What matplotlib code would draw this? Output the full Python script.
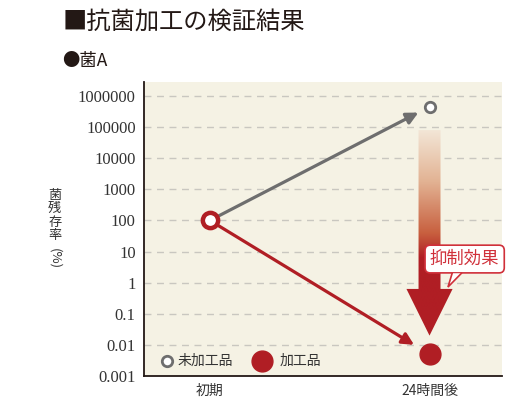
#!/usr/bin/env python3
import matplotlib
matplotlib.use("Agg")
import matplotlib.pyplot as plt
import numpy as np
from matplotlib.patches import Polygon
from matplotlib.colors import LinearSegmentedColormap

# 菌残存率(%) — 初期 / 24時間後
times = ["初期", "24時間後"]
untreated = [100, 450000]
treated = [100, 0.005]
yticks = [0.001, 0.01, 0.1, 1, 10, 100, 1000, 10000, 100000, 1000000]
ytick_labels = ["0.001", "0.01", "0.1", "1", "10", "100", "1000", "10000", "100000", "1000000"]

RED = "#B01E24"
CALLOUT = "#D0303A"
GREY = "#6E6E6E"
BG = "#F5F2E4"
INK = "#333333"
JP = ["Noto Sans CJK JP", "DejaVu Sans"]
NUM = ["Liberation Serif", "DejaVu Serif"]

plt.rcParams["font.family"] = JP

fig = plt.figure(figsize=(5.32, 3.99), dpi=100)
ax = fig.add_axes([0.2707, 0.0576, 0.6729, 0.7369])
ax.set_facecolor(BG)
ax.set_yscale("log")
ax.set_xlim(-0.3, 1.33)
ax.set_ylim(1e-3, 10 ** 6.45)

x = np.arange(len(times))

# 目盛りと破線グリッド
ax.set_yticks(yticks)
ax.set_yticklabels(ytick_labels, fontfamily=NUM, fontsize=12, color=INK)
ax.yaxis.set_minor_locator(matplotlib.ticker.NullLocator())
ax.set_xticks(x)
ax.set_xticklabels(times, fontsize=10, color=INK)
ax.tick_params(length=0, pad=6)
for t in yticks[1:]:
    ax.axhline(t, color="#C9C7C0", lw=1.0, ls=(0, (5, 4)), zorder=1)

for side in ("top", "right"):
    ax.spines[side].set_visible(False)
for side in ("left", "bottom"):
    ax.spines[side].set_color("#231815")
    ax.spines[side].set_linewidth(1.3)

# 抑制効果のグラデーション矢印 (未加工品 → 加工品)
y_top = 10 ** (np.log10(untreated[1]) - 0.75)
y_neck = 10 ** (np.log10(treated[1]) + 2.1)
y_tip = 10 ** (np.log10(treated[1]) + 0.6)
xc = x[1]
shaft, head = 0.05, 0.105
arrow = Polygon(
    [(xc - shaft, y_top), (xc + shaft, y_top), (xc + shaft, y_neck),
     (xc + head, y_neck), (xc, y_tip), (xc - head, y_neck), (xc - shaft, y_neck)],
    closed=True, transform=ax.transData, facecolor="none", edgecolor="none",
)
ax.add_patch(arrow)
cmap = LinearSegmentedColormap.from_list(
    "fade", [(0.0, "#F3E6D6"), (0.25, "#E2B293"), (0.5, "#C8603F"), (0.62, RED), (1.0, RED)]
)
ly0, ly1 = np.log10(ax.get_ylim())
to_frac = lambda v: (np.log10(v) - ly0) / (ly1 - ly0)
x0, x1 = ax.get_xlim()
grad = np.linspace(0, 1, 256).reshape(-1, 1)
im = ax.imshow(
    grad, cmap=cmap, aspect="auto", origin="upper", transform=ax.transAxes,
    extent=((xc - head - x0) / (x1 - x0), (xc + head - x0) / (x1 - x0),
            to_frac(y_tip), to_frac(y_top)),
    zorder=2, interpolation="bilinear",
)
im.set_clip_path(arrow)

# 推移の線
ax.annotate("", xy=(x[1], untreated[1]), xytext=(x[0], untreated[0]),
            arrowprops=dict(arrowstyle="-|>,head_length=0.7,head_width=0.35",
                            color=GREY, lw=2.3, shrinkA=0, shrinkB=9), zorder=3)
ax.annotate("", xy=(x[1], treated[1]), xytext=(x[0], treated[0]),
            arrowprops=dict(arrowstyle="-|>,head_length=0.7,head_width=0.35",
                            color=RED, lw=2.3, shrinkA=0, shrinkB=13), zorder=3)

ax.plot(x[0], untreated[0], "o", ms=11, mfc="white", mec=RED, mew=3.2, zorder=5)
ax.plot(x[1], untreated[1], "o", ms=7.5, mfc="white", mec=GREY, mew=2, zorder=5)
ax.plot(x[1], treated[1], "o", ms=15, mfc=RED, mec=RED, zorder=5)

# 吹き出し (本体 + しっぽ)
ax.text(1.16, 10 ** 0.76, "抑制効果", ha="center", va="center", fontsize=12.5, color=CALLOUT,
        bbox=dict(boxstyle="round,pad=0.28,rounding_size=0.3", fc="white", ec=CALLOUT, lw=1.2),
        zorder=6)
tail = [(1.103, 10 ** 0.30), (1.084, 10 ** -0.14), (1.145, 10 ** 0.30)]
ax.add_patch(Polygon(tail, closed=True, fc="white", ec="none", zorder=7))
ax.plot([p[0] for p in tail], [p[1] for p in tail], color=CALLOUT, lw=1.2,
        solid_joinstyle="miter", zorder=7)

# 凡例
ax.plot(0.064, 0.051, "o", ms=7.5, mfc="white", mec=GREY, mew=2,
        transform=ax.transAxes, zorder=5)
ax.text(0.094, 0.051, "未加工品", fontsize=10, color=INK, va="center", transform=ax.transAxes)
ax.plot(0.33, 0.051, "o", ms=15, mfc=RED, mec=RED, transform=ax.transAxes, zorder=5)
ax.text(0.378, 0.051, "加工品", fontsize=10, color=INK, va="center", transform=ax.transAxes)

# 縦書きの軸ラベル
fig.text(0.103, 0.46, "\n".join("菌残存率"), fontsize=9.5, color=INK,
         ha="center", va="center", linespacing=1.05)
fig.text(0.103, 0.352, "(%)", fontsize=9.5, color=INK, ha="center", va="center",
         rotation=270)

fig.text(0.117, 0.945, "■抗菌加工の検証結果", fontsize=17.5, color="#231815", ha="left", va="center")
fig.text(0.117, 0.848, "●菌A", fontsize=12.5, color="#231815", ha="left", va="center")

fig.savefig("out.png", dpi=100)
